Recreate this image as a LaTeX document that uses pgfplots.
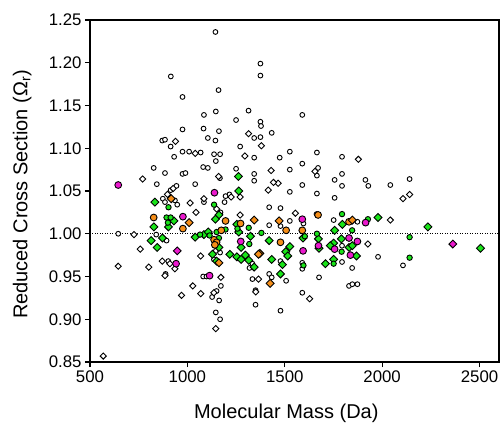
\documentclass[border=0pt]{standalone}
\usepackage{fontspec}
\setmainfont{Liberation Sans}
\usepackage{pgfplots}
\pgfplotsset{compat=1.18}
\definecolor{mgreen}{RGB}{25,228,25}
\definecolor{morange}{RGB}{245,142,25}
\definecolor{mmag}{RGB}{235,25,205}
\begin{document}
\begin{tikzpicture}
\path[use as bounding box] (-90bp,-68bp) rectangle (413bp,362bp);
\begin{axis}[
  at={(0,0)}, anchor=south west, scale only axis,
  width=409bp, height=342bp,
  xmin=500, xmax=2600, ymin=0.85, ymax=1.25,
  xtick={500,1000,1500,2000,2500},
  ytick={0.85,0.90,0.95,1.00,1.05,1.10,1.15,1.20,1.25},
  xtick pos=left, ytick pos=left,
  tick align=outside, major tick length=5bp,
  axis line style={line width=1.6bp},
  tick style={line width=1.2bp, black},
  /pgf/number format/assume math mode=true,
  x tick label style={/pgf/number format/1000 sep={}},
  y tick label style={/pgf/number format/.cd, fixed, fixed zerofill, precision=2},
  tick label style={font=\fontsize{16.8bp}{19bp}\selectfont},
  label style={font=\fontsize{20bp}{24bp}\selectfont},
  xlabel={Molecular Mass (Da)},
  ylabel={Reduced Cross Section (Ω\textsubscript{r})},
  xlabel style={at={(axis description cs:0.48,-0.149)}, anchor=center},
  ylabel style={at={(axis description cs:-0.166,0.49)}, anchor=center},
]
\addplot[black, line width=0.9bp, dash pattern=on 1bp off 1.5bp, forget plot] coordinates {(500,1) (2600,1)};
% open circles
\addplot[only marks, mark=*, mark size=2.4bp, mark options={fill=white, draw=black, line width=0.9bp}] coordinates {
(1144,1.236) (915,1.184) (1375,1.199) (1375,1.185) (1160,1.168) (975,1.160) (1146,1.143) (1314,1.144)
(1085,1.139) (1250,1.133) (1375,1.131) (1378,1.126) (975,1.122) (1083,1.123) (1162,1.120) (1433,1.118)
(1343,1.112) (1375,1.113) (1105,1.112) (871,1.109) (885,1.110) (914,1.102) (1144,1.109) (1271,1.102)
(975,1.096) (1009,1.096) (1068,1.095) (1137,1.093) (1168,1.093) (932,1.090) (1343,1.089) (1474,1.089)
(1146,1.085) (827,1.077) (1081,1.078) (1105,1.077) (1250,1.076) (885,1.071) (975,1.070) (990,1.071)
(1343,1.070) (1590,1.139) (1526,1.096) (1665,1.095) (1794,1.090) (1526,1.075) (1590,1.082) (1671,1.077)
(1665,1.068) (1794,1.070) (1756,1.063) (1914,1.063) (2141,1.064) (1590,1.057) (1526,1.049) (1665,1.047)
(1794,1.056) (1929,1.056) (2042,1.057) (1756,1.042) (1420,1.031) (1478,1.030) (1663,1.023) (1526,1.015)
(1596,1.012) (1751,1.016) (1873,1.014) (1420,1.010) (1478,1.009) (1794,0.986) (1979,0.973) (1478,0.968)
(1590,0.966) (1590,0.959) (1794,0.967) (1846,0.960) (2107,0.963) (1420,0.953) (1433,0.949) (1507,0.945)
(1676,0.949) (1830,0.939) (1847,0.941) (1873,0.941) (1590,0.931) (1478,0.910) (645,1.000) (843,1.058)
(874,1.041) (885,1.037) (936,1.039) (948,1.034) (914,1.051) (944,1.056) (1040,1.058) (1085,1.037)
(840,0.999) (893,0.992) (902,0.968) (888,0.953) (1136,0.970) (1081,0.950) (1098,0.950) (1127,0.926)
(1150,0.933) (1172,0.939) (1163,0.922) (1146,0.908) (1168,0.900) (1170,1.025) (1146,0.980) (1168,0.978)
(1167,1.065) (1216,1.046) (1196,1.044) (1191,1.037) (1343,1.062) (1334,0.965) (1319,0.960) (1334,0.947)
(1350,0.934) (1350,0.917)
};
% open diamonds
\addplot[only marks, mark=square*, mark size=2.2bp, mark options={rotate=45, fill=white, draw=black, line width=0.9bp}] coordinates {
(1314,1.117) (939,1.108) (1380,1.103) (1040,1.094) (1295,1.091) (1430,1.074) (770,1.064) (1160,1.067)
(1878,1.087) (1655,1.073) (1466,1.059) (2141,1.046) (2107,1.041) (1555,1.024) (2042,1.016) (1927,0.988)
(568,0.857) (645,0.962) (726,0.999) (758,0.982) (802,0.961) (898,1.046) (927,1.053) (1014,1.036)
(1044,1.025) (1085,1.041) (871,0.968) (910,0.965) (885,0.951) (936,0.959) (1068,0.974) (1028,0.939)
(1069,0.930) (970,0.928) (1136,0.931) (1172,0.949) (1146,0.889) (1150,1.029) (1225,1.043) (1271,1.043)
(1271,1.022) (1415,1.051) (1442,1.060) (1365,0.947) (1351,0.932) (1628,0.924)
};
% green diamonds
\addplot[only marks, mark=square*, mark size=2.8bp, mark options={rotate=45, fill=mgreen, draw=black, line width=0.9bp}] coordinates {
(1262,1.067) (1420,0.992) (1594,0.995) (1673,0.994) (1791,0.994) (1751,0.989) (1734,0.986) (1676,0.983)
(1830,0.984) (1847,0.986) (1526,0.985) (1505,0.979) (1515,0.974) (1868,0.974) (1433,0.970) (1488,0.964)
(1709,0.965) (1751,0.970) (1478,0.953) (1796,1.011) (1979,1.019) (1756,1.004) (2235,1.008) (2505,0.983)
(833,1.037) (828,1.008) (931,1.015) (903,1.008) (814,0.992) (845,0.984) (872,0.995) (1040,0.996)
(1085,0.999) (1107,1.002) (1129,0.976) (1150,0.968) (1162,1.022) (1144,1.017) (1162,0.984) (1264,1.050)
(1254,1.011) (1264,1.002) (1276,0.984) (1324,0.997) (1218,0.976) (1254,0.973) (1276,0.970) (1298,0.975)
(1315,0.969) (1343,0.961)
};
% green circles
\addplot[only marks, mark=*, mark size=2.7bp, mark options={fill=mgreen, draw=black, line width=0.9bp}] coordinates {
(1794,1.023) (1927,1.017) (1846,1.004) (1380,1.001) (1665,1.000) (2141,0.996) (1603,0.997) (1792,0.979)
(1596,0.963) (1751,0.965) (2141,0.972) (903,1.031) (893,1.019) (914,1.019) (900,1.013) (1065,0.999)
(1114,0.998) (1137,1.034) (1150,1.002) (1162,0.995) (1196,1.005) (1257,1.006) (1315,1.007) (1318,0.988)
};
% orange circles
\addplot[only marks, mark=*, mark size=3.4bp, mark options={fill=morange, draw=black, line width=0.9bp}] coordinates {
(1671,1.022) (1830,1.014) (1507,1.004) (1590,1.004) (1478,0.990) (827,1.019) (977,1.006) (1196,1.015)
(1174,1.004) (1137,0.993) (1150,0.990) (1141,0.987) (1273,1.012)
};
% orange diamonds
\addplot[only marks, mark=square*, mark size=2.8bp, mark options={rotate=45, fill=morange, draw=black, line width=0.9bp}] coordinates {
(1471,1.015) (1847,1.016) (1372,0.977) (1425,0.942) (917,1.041) (1009,1.013) (1162,0.966) (1343,1.016)
(1365,0.976)
};
% magenta circles
\addplot[only marks, mark=*, mark size=3.4bp, mark options={fill=mmag, draw=black, line width=0.9bp}] coordinates {
(1590,1.017) (1915,1.013) (1830,0.995) (1873,0.991) (1673,0.986) (1756,0.982) (1594,0.980) (1837,0.975)
(645,1.057) (977,1.020) (942,0.965) (1114,0.951) (1139,1.048) (1274,0.991)
};
% magenta diamonds
\addplot[only marks, mark=square*, mark size=2.8bp, mark options={rotate=45, fill=mmag, draw=black, line width=0.9bp}] coordinates {
(2363,0.988) (948,0.980)
};
\end{axis}
\end{tikzpicture}
\end{document}
